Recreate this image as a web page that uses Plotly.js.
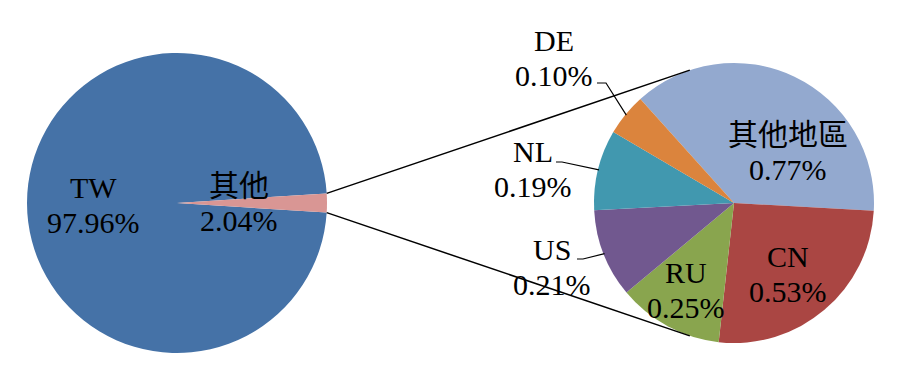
<!DOCTYPE html>
<html>
<head>
<meta charset="utf-8">
<script src="https://cdn.plot.ly/plotly-3.0.1.min.js"></script>
<style>html,body{margin:0;padding:0;background:#fff;}#chart{width:902px;height:385px;}</style>
</head>
<body>
<div id="chart"></div>
<script>
// ---- data ----
const mainLabels = ['TW', '其他'];
const mainValues = [97.96, 2.04];
const mainColors = ['#4572A7', '#D99694'];

const subLabels = ['其他地區', 'CN', 'RU', 'US', 'NL', 'DE'];
const subValues = [0.77, 0.53, 0.25, 0.21, 0.19, 0.10];
const subColors = ['#93A9CF', '#AA4643', '#89A54E', '#71588F', '#4198AF', '#DB843D'];

// ---- layout geometry (pixels) ----
const W = 902, H = 385;
const leftPie = {cx: 177, cy: 203, r: 150};
const rightPie = {cx: 734, cy: 203, r: 140, rotation: -42};
const connectorAngle = 18.4; // deg from vertical on the right pie
const lineGap = 35; // distance between the two label lines

// label centers (pixels)
const mainLabelPos = [[93, 205], [239, 203]];
const subLabelPos = [[788, 152], [788, 274], [686, 290], [552, 267], [533, 169], [554, 58]];
// leader lines start points for outside labels (index -> [x,y] start, elbow)
const leaders = {
  3: [[577, 259], [583, 259]],
  4: [[556, 162], [562, 162]],
  5: [[597, 83], [606, 83]]
};

const font = {family: '"Liberation Serif", "Times New Roman", "Noto Sans CJK TC", serif', size: 30, color: '#000'};

function px(x) { return x / W; }
function py(y) { return 1 - y / H; }
function domainOf(p) {
  return {x: [px(p.cx - p.r), px(p.cx + p.r)], y: [py(p.cy + p.r), py(p.cy - p.r)]};
}
function pt(p, deg, r) {
  const a = deg * Math.PI / 180;
  const rr = (r === undefined) ? p.r : r;
  return [p.cx + rr * Math.sin(a), p.cy - rr * Math.cos(a)];
}

const mainTotal = mainValues.reduce((a, b) => a + b, 0);
const otherSpan = mainValues[1] / mainTotal * 360;
const leftRotation = 90 + otherSpan / 2;

const traces = [
  {
    type: 'pie', labels: mainLabels, values: mainValues, sort: false, direction: 'clockwise',
    rotation: leftRotation, marker: {colors: mainColors, line: {width: 0}},
    textinfo: 'none', hoverinfo: 'skip', domain: domainOf(leftPie), showlegend: false
  },
  {
    type: 'pie', labels: subLabels, values: subValues, sort: false, direction: 'clockwise',
    rotation: rightPie.rotation, marker: {colors: subColors, line: {width: 0}},
    textinfo: 'none', hoverinfo: 'skip', domain: domainOf(rightPie), showlegend: false
  }
];

const annotations = [];
function addLabel(pos, name, val) {
  [[name, -lineGap / 2], [val.toFixed(2) + '%', lineGap / 2]].forEach(([t, dy]) => {
    annotations.push({xref: 'paper', yref: 'paper', x: px(pos[0]), y: py(pos[1] + dy),
      xanchor: 'center', yanchor: 'middle', showarrow: false, font: font, text: t});
  });
}
mainLabels.forEach((l, i) => addLabel(mainLabelPos[i], l, mainValues[i]));
subLabels.forEach((l, i) => addLabel(subLabelPos[i], l, subValues[i]));

const shapes = [];
// connector lines between pies
const upperLeft = pt(leftPie, 90 - otherSpan / 2);
const lowerLeft = pt(leftPie, 90 + otherSpan / 2);
const upperRight = pt(rightPie, -connectorAngle);
const lowerRight = pt(rightPie, 180 + connectorAngle);
[[upperLeft, upperRight], [lowerLeft, lowerRight]].forEach(seg => {
  shapes.push({type: 'line', xref: 'paper', yref: 'paper', layer: 'above',
    x0: px(seg[0][0]), y0: py(seg[0][1]), x1: px(seg[1][0]), y1: py(seg[1][1]),
    line: {color: '#000', width: 1.5}});
});
// leader lines
const subTotal = subValues.reduce((a, b) => a + b, 0);
let acc = rightPie.rotation;
const mids = subValues.map(v => { const s = acc; acc += v / subTotal * 360; return (s + acc) / 2; });
Object.keys(leaders).forEach(k => {
  const i = +k;
  const e = pt(rightPie, mids[i], rightPie.r - 1);
  const [s, b] = leaders[k];
  const path = 'M' + px(s[0]) + ',' + py(s[1]) + ' L' + px(b[0]) + ',' + py(b[1]) + ' L' + px(e[0]) + ',' + py(e[1]);
  shapes.push({type: 'path', xref: 'paper', yref: 'paper', layer: 'above', path: path,
    line: {color: '#000', width: 1.2}});
});

const layout = {
  width: W, height: H, margin: {l: 0, r: 0, t: 0, b: 0},
  paper_bgcolor: '#fff', plot_bgcolor: '#fff', showlegend: false,
  annotations: annotations, shapes: shapes, hovermode: false
};
Plotly.newPlot('chart', traces, layout, {displayModeBar: false, staticPlot: true});
</script>
</body>
</html>
